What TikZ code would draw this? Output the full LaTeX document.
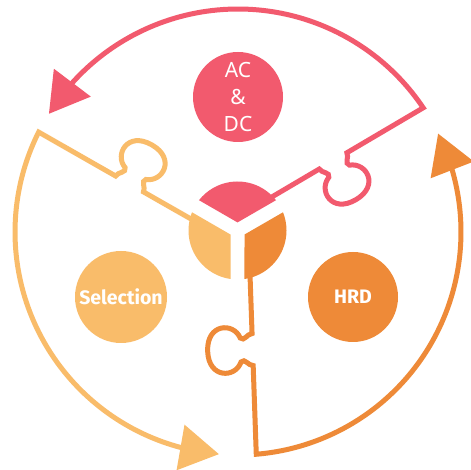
\documentclass[tikz,border=0pt]{standalone}
\usepackage{fontspec}
\setmainfont{Noto Sans}
\newfontfamily\labelfont{Fira Sans}
\usetikzlibrary{arrows.meta,bending}
\definecolor{cred}{HTML}{F25A6E}
\definecolor{clight}{HTML}{F9BC6A}
\definecolor{cdark}{HTML}{EE8A38}
\tikzset{
  outline/.style={line width=5pt, line join=miter},
  bigtip/.style={-{Triangle[length=39pt,width=45pt,flex]}},
  blob/.style={circle, inner sep=0pt, text=white},
  blobtext/.style={font=\labelfont\bfseries\fontsize{19.5}{23}\selectfont},
}
% #1 colour, #2 edge angle, #3 edge offset, #4 end angle of the arc
\newcommand\puzzlepiece[4]{%
  \begin{scope}[shift={(238,238)}, rotate=#2]
    \draw[outline, draw=#1, bigtip]
      (30,#3) -- (102,#3)
      .. controls (102,#3-5) and (110,#3-8) .. (106,#3-12)
      .. controls (90,#3-18) and (90,#3-45) .. (118,#3-45)
      .. controls (146,#3-45) and (146,#3-18) .. (130,#3-12)
      .. controls (126,#3-8) and (134,#3-5) .. (134,#3)
      -- ({asin(#3/223)}:223)
      arc[start angle={asin(#3/223)}, end angle=#4, radius=223];
  \end{scope}}
% #1 colour, #2 start angle of the sector
\newcommand\centresector[2]{%
  \begin{scope}[shift={(237.5,239.5)}, rotate=#2]
    \fill[#1] (60:8.08) -- (8.2:49) arc[start angle=8.2, end angle=111.8, radius=49] -- cycle;
  \end{scope}}
\begin{document}
\begin{tikzpicture}[x=1pt, y=1pt]
  \useasboundingbox (0,0) rectangle (470,470);
  \fill[white] (0,0) rectangle (470,470);
  \puzzlepiece{cred}{30.5}{13}{117.5}
  \puzzlepiece{clight}{150.3}{12}{114.8}
  \puzzlepiece{cdark}{272}{10.5}{114.2}
  \centresector{cred}{30}
  \centresector{clight}{150}
  \centresector{cdark}{270}
  \node[blob, fill=cred, minimum size=90pt, align=center,
        font=\fontsize{21}{27}\selectfont] (acdc) at (238,373) {AC\\\&\\DC};
  \node[blob, fill=clight, minimum size=92pt, blobtext] (sel) at (121,173) {Selection};
  \node[blob, fill=cdark, minimum size=90pt, blobtext] (hrd) at (353,173) {HRD};
\end{tikzpicture}
\end{document}
